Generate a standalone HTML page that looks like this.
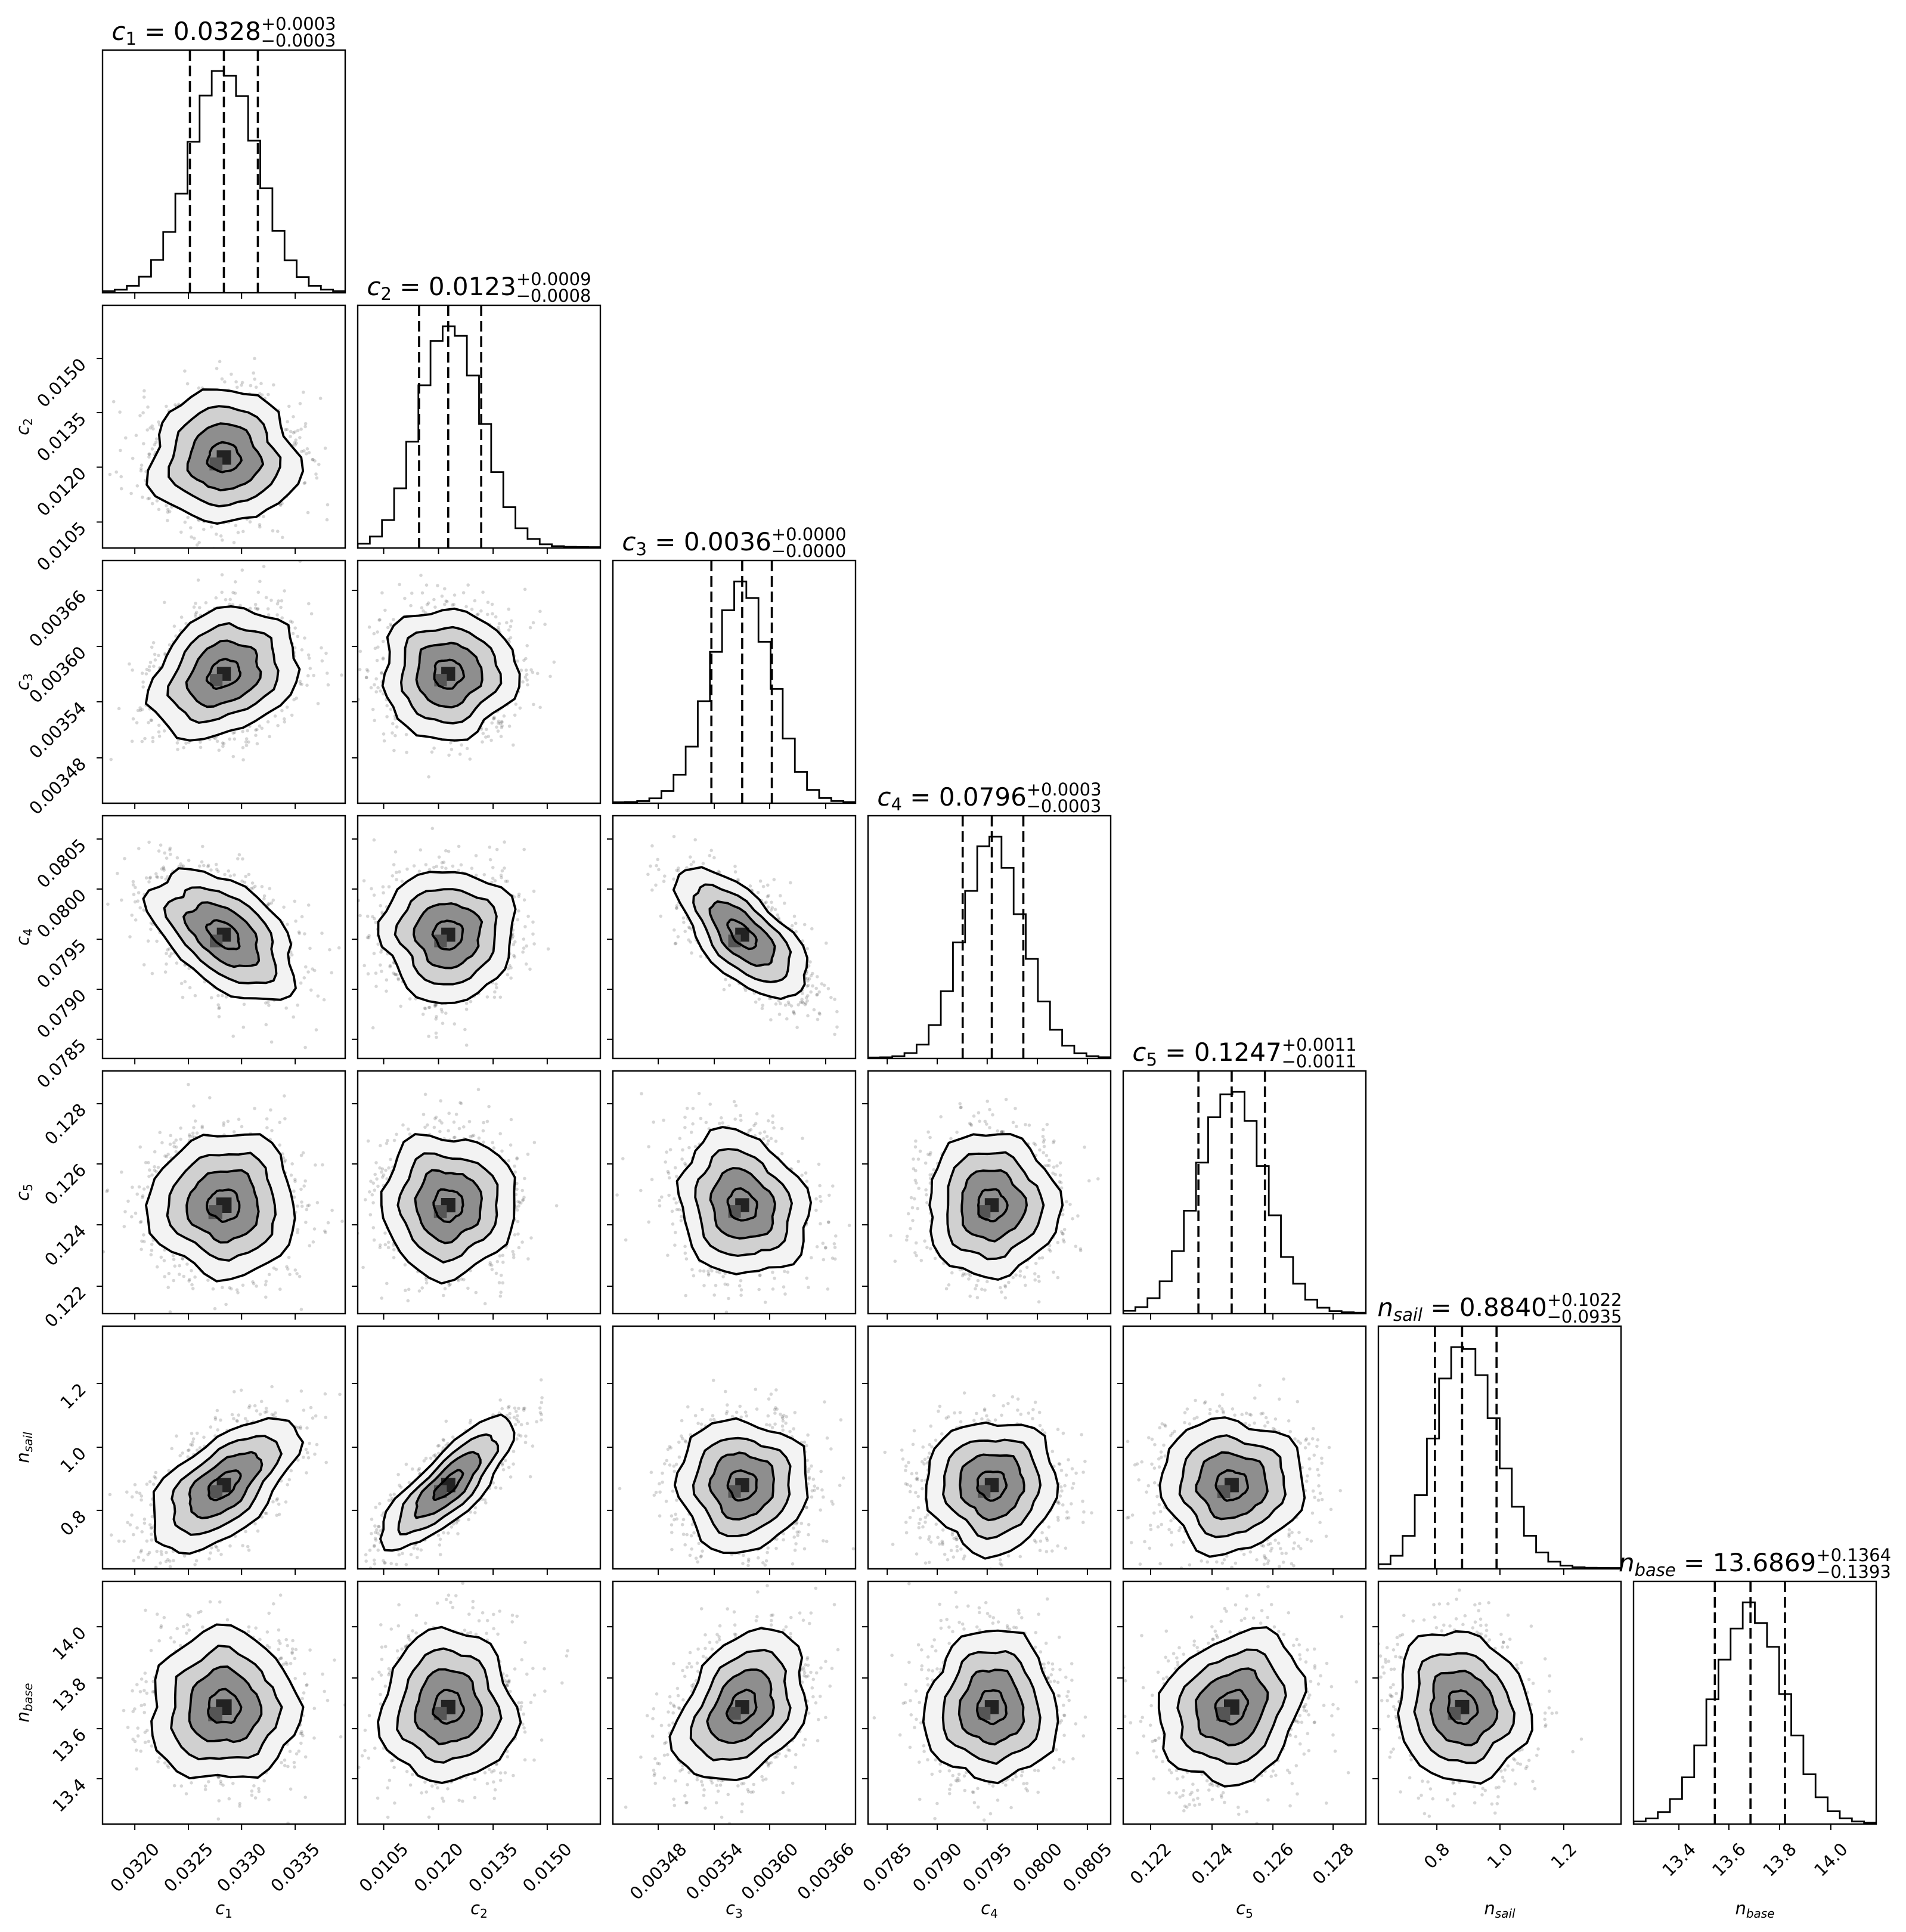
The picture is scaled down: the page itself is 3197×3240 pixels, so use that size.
<!DOCTYPE html>
<html><head><meta charset="utf-8"><style>
html,body{margin:0;padding:0;background:#fff;}
svg{display:block;font-family:"DejaVu Sans","Liberation Sans",sans-serif;}
</style></head><body>
<svg id="s" width="3197" height="3240" viewBox="0 0 3197 3240" xmlns="http://www.w3.org/2000/svg">
<rect width="3197" height="3240" fill="#fff"/>
<g id="plots"></g>
<g id="titles" fill="#000">
<text x="375.5" y="67" text-anchor="middle" font-size="42"><tspan font-style="italic">c</tspan><tspan font-size="29" dy="8">1</tspan><tspan dy="-8"> = 0.0328</tspan><tspan font-size="29" dy="-17">+0.0003</tspan><tspan font-size="29" dx="-126" dy="28">−0.0003</tspan></text>
<text x="803.5" y="495" text-anchor="middle" font-size="42"><tspan font-style="italic">c</tspan><tspan font-size="29" dy="8">2</tspan><tspan dy="-8"> = 0.0123</tspan><tspan font-size="29" dy="-17">+0.0009</tspan><tspan font-size="29" dx="-126" dy="28">−0.0008</tspan></text>
<text x="1231.5" y="923" text-anchor="middle" font-size="42"><tspan font-style="italic">c</tspan><tspan font-size="29" dy="8">3</tspan><tspan dy="-8"> = 0.0036</tspan><tspan font-size="29" dy="-17">+0.0000</tspan><tspan font-size="29" dx="-126" dy="28">−0.0000</tspan></text>
<text x="1659.5" y="1351" text-anchor="middle" font-size="42"><tspan font-style="italic">c</tspan><tspan font-size="29" dy="8">4</tspan><tspan dy="-8"> = 0.0796</tspan><tspan font-size="29" dy="-17">+0.0003</tspan><tspan font-size="29" dx="-126" dy="28">−0.0003</tspan></text>
<text x="2087.5" y="1779" text-anchor="middle" font-size="42"><tspan font-style="italic">c</tspan><tspan font-size="29" dy="8">5</tspan><tspan dy="-8"> = 0.1247</tspan><tspan font-size="29" dy="-17">+0.0011</tspan><tspan font-size="29" dx="-126" dy="28">−0.0011</tspan></text>
<text x="2515.5" y="2207" text-anchor="middle" font-size="42"><tspan font-style="italic">n</tspan><tspan font-size="29" dy="8" font-style="italic">sail</tspan><tspan dy="-8"> = 0.8840</tspan><tspan font-size="29" dy="-17">+0.1022</tspan><tspan font-size="29" dx="-126" dy="28">−0.0935</tspan></text>
<text x="2943.5" y="2635" text-anchor="middle" font-size="42"><tspan font-style="italic">n</tspan><tspan font-size="29" dy="8" font-style="italic">base</tspan><tspan dy="-8"> = 13.6869</tspan><tspan font-size="29" dy="-17">+0.1364</tspan><tspan font-size="29" dx="-126" dy="28">−0.1393</tspan></text>
</g>
<g id="axlabels" font-size="29" fill="#000">
<text x="375.5" y="3210" text-anchor="middle"><tspan font-style="italic">c</tspan><tspan font-size="20" dy="6">1</tspan></text>
<text x="803.5" y="3210" text-anchor="middle"><tspan font-style="italic">c</tspan><tspan font-size="20" dy="6">2</tspan></text>
<text x="1231.5" y="3210" text-anchor="middle"><tspan font-style="italic">c</tspan><tspan font-size="20" dy="6">3</tspan></text>
<text x="1659.5" y="3210" text-anchor="middle"><tspan font-style="italic">c</tspan><tspan font-size="20" dy="6">4</tspan></text>
<text x="2087.5" y="3210" text-anchor="middle"><tspan font-style="italic">c</tspan><tspan font-size="20" dy="6">5</tspan></text>
<text x="2515.5" y="3210" text-anchor="middle"><tspan font-style="italic">n</tspan><tspan font-size="20" dy="6" font-style="italic">sail</tspan></text>
<text x="2943.5" y="3210" text-anchor="middle"><tspan font-style="italic">n</tspan><tspan font-size="20" dy="6" font-style="italic">base</tspan></text>
<text transform="translate(48,715.5) rotate(-90)" text-anchor="middle"><tspan font-style="italic">c</tspan><tspan font-size="20" dy="6">2</tspan></text>
<text transform="translate(48,1143.5) rotate(-90)" text-anchor="middle"><tspan font-style="italic">c</tspan><tspan font-size="20" dy="6">3</tspan></text>
<text transform="translate(48,1571.5) rotate(-90)" text-anchor="middle"><tspan font-style="italic">c</tspan><tspan font-size="20" dy="6">4</tspan></text>
<text transform="translate(48,1999.5) rotate(-90)" text-anchor="middle"><tspan font-style="italic">c</tspan><tspan font-size="20" dy="6">5</tspan></text>
<text transform="translate(48,2427.5) rotate(-90)" text-anchor="middle"><tspan font-style="italic">n</tspan><tspan font-size="20" dy="6" font-style="italic">sail</tspan></text>
<text transform="translate(48,2855.5) rotate(-90)" text-anchor="middle"><tspan font-style="italic">n</tspan><tspan font-size="20" dy="6" font-style="italic">base</tspan></text>
</g>
<g font-size="29" fill="#000">
<g id="x0"><text>0.0320</text><text>0.0325</text><text>0.0330</text><text>0.0335</text></g>
<g id="x1"><text>0.0105</text><text>0.0120</text><text>0.0135</text><text>0.0150</text></g>
<g id="x2"><text>0.00348</text><text>0.00354</text><text>0.00360</text><text>0.00366</text></g>
<g id="x3"><text>0.0785</text><text>0.0790</text><text>0.0795</text><text>0.0800</text><text>0.0805</text></g>
<g id="x4"><text>0.122</text><text>0.124</text><text>0.126</text><text>0.128</text></g>
<g id="x5"><text>0.8</text><text>1.0</text><text>1.2</text></g>
<g id="x6"><text>13.4</text><text>13.6</text><text>13.8</text><text>14.0</text></g>
<g id="y1"><text>0.0105</text><text>0.0120</text><text>0.0135</text><text>0.0150</text></g>
<g id="y2"><text>0.00348</text><text>0.00354</text><text>0.00360</text><text>0.00366</text></g>
<g id="y3"><text>0.0785</text><text>0.0790</text><text>0.0795</text><text>0.0800</text><text>0.0805</text></g>
<g id="y4"><text>0.122</text><text>0.124</text><text>0.126</text><text>0.128</text></g>
<g id="y5"><text>0.8</text><text>1.0</text><text>1.2</text></g>
<g id="y6"><text>13.4</text><text>13.6</text><text>13.8</text><text>14.0</text></g>
</g>
</svg>
<script>
(function(){
var L=172,T=84,S=407,P=428,N=7;
var PR=[
{q:[.36,.50,.64],t:[.133,.354,.573,.794]},
{q:[.253,.373,.509],t:[.107,.333,.558,.781]},
{q:[.406,.533,.655],t:[.187,.418,.646,.877]},
{q:[.39,.51,.64],t:[.079,.285,.491,.698,.904]},
{q:[.31,.447,.584],t:[.113,.366,.617,.865]},
{q:[.233,.345,.487],t:[.241,.501,.764]},
{q:[.335,.482,.624],t:[.187,.393,.602,.813]}];
var RHO={'3,0':-.5,'3,2':-.65,'5,0':.6,'5,1':.8,'6,2':.35,'6,4':.2,'2,0':.25,'4,2':-.15,'6,5':-.1};
var seed=12345;
function rnd(){seed|=0;seed=seed+0x6D2B79F5|0;var t=Math.imul(seed^seed>>>15,1|seed);t=t+Math.imul(t^t>>>7,61|t)^t;return((t^t>>>14)>>>0)/4294967296;}
function gauss(){var u=rnd()||1e-9,v=rnd();return Math.sqrt(-2*Math.log(u))*Math.cos(2*Math.PI*v);}
var g=document.getElementById('plots');var out=[];
function el(s){out.push(s);}
for(var i=0;i<N;i++){for(var j=0;j<=i;j++){
 var x0=L+j*P,y0=T+i*P;
 el('<clipPath id="c'+i+'_'+j+'"><rect x="'+x0+'" y="'+y0+'" width="'+S+'" height="'+S+'"/></clipPath>');
 el('<g clip-path="url(#c'+i+'_'+j+')">');
 if(i==j){
  var p=PR[i],mu=p.q[1],sl=mu-p.q[0],sr=p.q[2]-mu;
  var nb=20,vals=[];
  for(var b=0;b<nb;b++){var c=(b+.5)/nb,sd=c<mu?sl:sr;var v=Math.exp(-.5*Math.pow((c-mu)/sd,2));v*=1+0.06*(rnd()-.5);vals.push(v);}
  var mx=Math.max.apply(null,vals);
  var d='M'+x0+','+(y0+S);
  for(var b=0;b<nb;b++){var h=vals[b]/mx*0.91*S+1.5;var yy=y0+S-h;d+=' L'+(x0+b*S/nb)+','+yy+' L'+(x0+(b+1)*S/nb)+','+yy;}
  el('<path d="'+d+'" fill="none" stroke="#000" stroke-width="2.8"/>');
  for(var k=0;k<3;k++){var xx=x0+p.q[k]*S;el('<line x1="'+xx+'" y1="'+y0+'" x2="'+xx+'" y2="'+(y0+S)+'" stroke="#000" stroke-width="3.6" stroke-dasharray="18,8"/>');}
 }else{
  var px=PR[j],py=PR[i];
  var cx=x0+px.q[1]*S,cy=y0+(1-py.q[1])*S;
  var sx=(px.q[2]-px.q[0])/2*S*1.05,sy=(py.q[2]-py.q[0])/2*S*1.05;
  var r=RHO[i+','+j]||0,rr=Math.sqrt(1-r*r);
  for(var n=0;n<1400;n++){var z1=gauss(),z2=gauss();if(z1*z1+z2*z2<3.4)continue;
   var xx=cx+sx*z1,yy=cy-sy*(r*z1+rr*z2);
   el('<circle cx="'+xx.toFixed(1)+'" cy="'+yy.toFixed(1)+'" r="2.8" fill="#000" fill-opacity="0.16"/>');}
  var ph=[rnd()*6,rnd()*6,rnd()*6];
  function poly(k){var s='';for(var m=0;m<34;m++){var t=m/34*2*Math.PI;var f=k*(1+0.05*Math.sin(3*t+ph[0])+0.04*Math.sin(5*t+ph[1])+0.03*Math.sin(7*t+ph[2])+0.05*(rnd()-.5));
    var xx=cx+f*sx*Math.cos(t),yy=cy-f*sy*(r*Math.cos(t)+rr*Math.sin(t));s+=xx.toFixed(1)+','+yy.toFixed(1)+' ';}return s;}
  var ks=[2.05,1.5,1,0.45],fills=['#f3f3f3','#d0d0d0','#8e8e8e','#4a4a4a'],ps=[];
  for(var k=0;k<4;k++){ps.push(poly(ks[k]));}
  for(var k=0;k<3;k++)el('<polygon points="'+ps[k]+'" fill="'+fills[k]+'"/>');
  var bs=Math.min(sx,sy)*0.22;
  el('<rect x="'+(cx-bs).toFixed(1)+'" y="'+(cy-bs).toFixed(1)+'" width="'+(2*bs).toFixed(1)+'" height="'+(2*bs).toFixed(1)+'" fill="#222"/>');
  el('<rect x="'+(cx-bs*2).toFixed(1)+'" y="'+(cy).toFixed(1)+'" width="'+(bs*1.8).toFixed(1)+'" height="'+(bs*1.8).toFixed(1)+'" fill="#555"/>');
  for(var k=0;k<4;k++)el('<polygon points="'+ps[k]+'" fill="none" stroke="#000" stroke-width="3.8" stroke-linejoin="round"/>');
 }
 el('</g>');
 el('<rect x="'+x0+'" y="'+y0+'" width="'+S+'" height="'+S+'" fill="none" stroke="#000" stroke-width="2.4"/>');
 var tx=PR[j].t;
 for(var k=0;k<tx.length;k++){var xx=x0+tx[k]*S;el('<line x1="'+xx+'" y1="'+(y0+S)+'" x2="'+xx+'" y2="'+(y0+S+10)+'" stroke="#000" stroke-width="2"/>');}
 if(i>j){var ty=PR[i].t;for(var k=0;k<ty.length;k++){var yy=y0+(1-ty[k])*S;el('<line x1="'+(x0-10)+'" y1="'+yy+'" x2="'+x0+'" y2="'+yy+'" stroke="#000" stroke-width="2"/>');}}
}}
g.innerHTML=out.join('');
for(var j=0;j<N;j++){var ts=document.getElementById('x'+j).getElementsByTagName('text');
 for(var k=0;k<ts.length;k++){var w=ts[k].getComputedTextLength();var tk=L+j*P+PR[j].t[k]*S;
  var px=tk+0.354*w+7,py=3103;ts[k].setAttribute('text-anchor','end');ts[k].setAttribute('transform','translate('+px.toFixed(1)+','+py+') rotate(-45)');}}
for(var i=1;i<N;i++){var ts=document.getElementById('y'+i).getElementsByTagName('text');
 for(var k=0;k<ts.length;k++){var tk=T+i*P+(1-PR[i].t[k])*S;
  ts[k].setAttribute('text-anchor','end');ts[k].setAttribute('transform','translate(146,'+(tk+12).toFixed(1)+') rotate(-45)');}}
})();
</script>
</body></html>
